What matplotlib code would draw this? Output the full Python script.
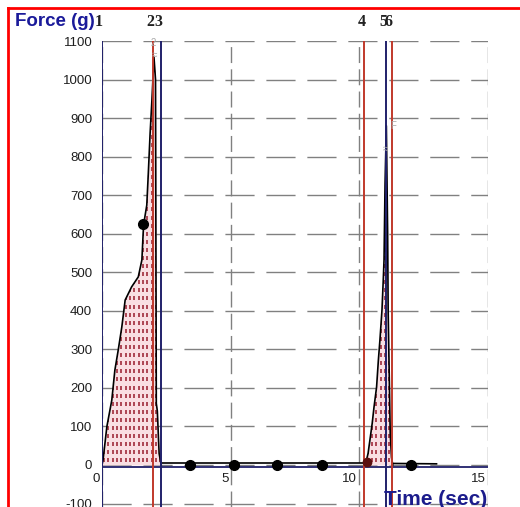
import numpy as np
import matplotlib
matplotlib.use("Agg")
import matplotlib.pyplot as plt
from matplotlib.lines import Line2D
from matplotlib.transforms import blended_transform_factory

# force trace (time in sec, force in g)
peak1_time = [0.0, 0.04, 0.19, 0.38, 0.5, 0.63, 0.77, 0.9, 1.15, 1.41, 1.55,
              1.6, 1.62, 1.74, 1.8, 1.87, 1.94, 1.98, 2.02, 2.08, 2.11, 2.15,
              2.22, 2.3]
peak1_force = [0, 13, 100, 168, 246, 298, 358, 428, 462, 488, 532,
               602, 625, 674, 757, 861, 947, 1003, 1058, 1000, 160, 140,
               30, 0]
peak2_time = [10.26, 10.34, 10.5, 10.57, 10.67, 10.74, 10.8, 10.88, 10.93,
              10.96, 11.0, 11.05, 11.1, 11.12, 11.2, 11.25, 11.3]
peak2_force = [8, 30, 108, 150, 202, 272, 324, 402, 480,
               532, 731, 880, 600, 400, 83, 20, 0]
rest1_time = [2.3, 10.26]
rest1_force = [4, 4]
rest2_time = [11.3, 13.0]
rest2_force = [4, 3]

# analysis points
dot_time = [3.42, 5.13, 6.8, 8.55, 12.0]
dot_force = [0, 0, 0, 0, 0]
peak_dot = (1.6, 625)
start_dot = (10.28, 8)

# cursors
cursor_time = [0.0, 2.0, 2.3, 10.2, 11.05, 11.25]
cursor_label = ["1", "2", "3", "4", "5", "6"]

y_ticks = list(range(-100, 1101, 100))
x_ticks = [0, 5, 10, 15]

navy = "#20206a"
red = "#c0392b"
pink = "#f9dfe3"

plt.rcParams["font.family"] = ["Liberation Sans", "DejaVu Sans"]
plt.rcParams["axes.unicode_minus"] = False

fig = plt.figure(figsize=(5.2, 5.07), dpi=100)
ax = fig.add_axes([102 / 520, 0, (488 - 102) / 520, (507 - 41) / 507])
ax.set_xlim(0, 15)
ax.set_ylim(-109, 1100)
for s in ax.spines.values():
    s.set_visible(False)

ax.set_yticks(y_ticks)
ax.set_xticks(x_ticks)
ax.set_xticklabels([])
ax.tick_params(axis="both", length=0)
ax.tick_params(axis="y", pad=7, labelsize=9.5, labelcolor="#1e1e1e")
ax.set_axisbelow(True)
ax.xaxis.grid(True, linestyle=(0, (11.5, 4.5)), color="#808080", lw=1)
ax.yaxis.grid(True, linestyle=(0, (21, 8.5)), color="#808080", lw=1)

for x in x_ticks:
    ax.text(x - 0.08, -36, str(x), ha="right", va="center",
            fontsize=9.5, color="#1e1e1e")

# zero line
ax.axhline(-4, color=navy, lw=1.3, zorder=3)

# shaded integration areas with red dash pattern
gx, gy = np.meshgrid(np.arange(0.08, 15, 0.168), np.arange(12, 1100, 21))
for t, f in [(peak1_time, peak1_force), (peak2_time, peak2_force)]:
    poly = ax.fill_between(t, 0, f, color=pink, lw=0, zorder=2)
    pat, = ax.plot(gx.ravel(), gy.ravel(), ls="none", marker="|", ms=3.5,
                   mew=1.2, color="#a02c3c", zorder=2.5)
    pat.set_clip_path(poly.get_paths()[0], ax.transData)

ax.plot(peak1_time, peak1_force, color="black", lw=1.2, zorder=4)
ax.plot(peak2_time, peak2_force, color="black", lw=1.2, zorder=4)
ax.plot(rest1_time, rest1_force, color="black", lw=1.2, zorder=4)
ax.plot(rest2_time, rest2_force, color="black", lw=1.2, zorder=4)

# cursor lines and labels
lab_tr = blended_transform_factory(ax.transData, fig.transFigure)
for i, (t, lab) in enumerate(zip(cursor_time, cursor_label)):
    c = navy if i % 2 == 0 else red
    ax.axvline(t, color=c, lw=1.4, zorder=5)
    ax.text(t - 0.12, 1 - 22 / 507, lab, transform=lab_tr, ha="center",
            va="center", fontsize=11.5, fontweight="bold",
            family="Liberation Serif", color="#222222", clip_on=False)

ax.plot(dot_time, dot_force, ls="none", marker="o", ms=7, color="black",
        zorder=6)
ax.plot(*peak_dot, marker="o", ms=7, color="black", zorder=6)
ax.plot(*start_dot, marker="o", ms=6, color="#5a1010", zorder=6)

# faint cursor glyphs near peaks
for t, f, s in [(2.0, 1095, "2"), (2.02, 1062, "\u2248"), (11.33, 880, "F"),
                (11.0, 818, "\u2248")]:
    ax.text(t, f, s, fontsize=7, color="#a8a8a8", ha="center", va="center",
            zorder=7)

fig.text(15 / 520, 1 - 21 / 507, "Force (g)", ha="left", va="center",
         fontsize=13.5, fontweight="bold", color="#1a1a9a", zorder=8)
fig.text(487 / 520, 2 / 507, "Time (sec)", ha="right", va="baseline",
         fontsize=15, fontweight="bold", color="#1c1c8c")

# red frame
fig.add_artist(Line2D([8 / 520, 1], [1 - 8 / 507, 1 - 8 / 507], color="red",
                      lw=2, transform=fig.transFigure))
fig.add_artist(Line2D([8 / 520, 8 / 520], [0, 1 - 8 / 507], color="red",
                      lw=2, transform=fig.transFigure))

fig.savefig("out.png", dpi=100)
